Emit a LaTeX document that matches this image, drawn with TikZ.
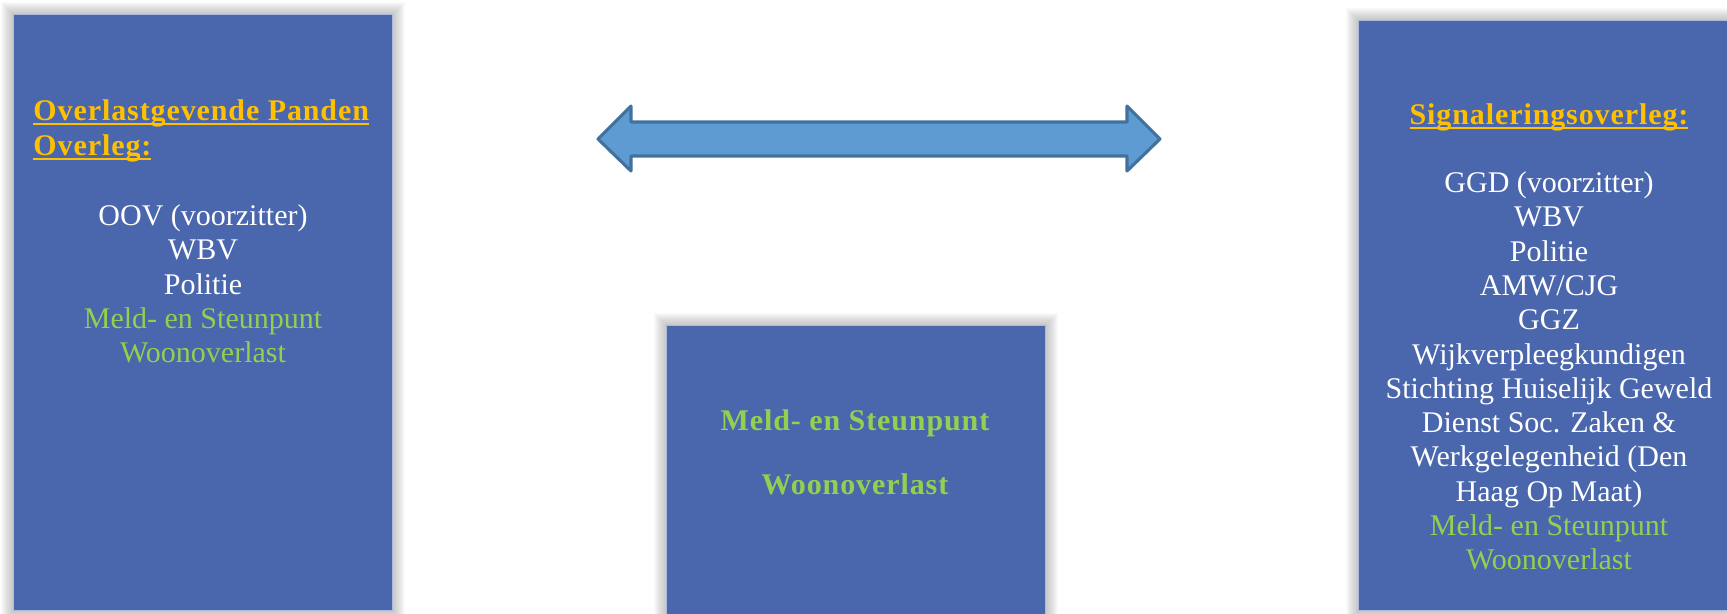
\documentclass[tikz,border=0pt]{standalone}
\usepackage{fontspec}
\setmainfont{Liberation Serif}[BoldFeatures={LetterSpace=3}]
\usepackage{tikz}
\usetikzlibrary{positioning,backgrounds}
\definecolor{boxblue}{HTML}{4A66AC}
\definecolor{arrowblue}{HTML}{5F9BD3}
\definecolor{arrowline}{HTML}{41719C}
\definecolor{titleorange}{HTML}{FFC000}
\definecolor{textgreen}{HTML}{92D050}
\newcommand{\ulline}[1]{\setbox0\hbox{#1}\rlap{\rule[-1.9pt]{\wd0}{0.85pt}}\box0}

\begin{document}
\begin{tikzpicture}[x=0.42pt, y=-0.42pt,
    panel/.style={fill=boxblue, draw=white!55!boxblue, line width=0.4pt,
      anchor=north west, inner sep=0pt},
    txt/.style={font=\fontsize{12.6}{14.4}\selectfont, inner sep=0pt},
    members/.style={txt, text=white, align=center},
    heading/.style={txt, font=\fontsize{12.6}{14.4}\selectfont\bfseries, text=titleorange},
    office/.style={txt, font=\fontsize{12.6}{26.9}\selectfont\bfseries, text=textgreen, align=center}]
  \useasboundingbox (0,0) rectangle (1727,613);

  % the three panels
  \node [panel, minimum width=159.2pt, minimum height=250.3pt] (opo) at (13,14) {};
  \node [panel, minimum width=159.2pt, minimum height=124pt] (msw) at (666,325) {};
  \node [panel, minimum width=160.4pt, minimum height=248pt] (sig) at (1358,20) {};

  \begin{scope}[on background layer]
    \foreach \b in {opo,msw,sig}
      \foreach \d in {1,...,12}
        \fill [black, opacity=0.018] ([shift={(-\d,-\d)}]\b.north west) rectangle ([shift={(\d,\d)}]\b.south east);
  \end{scope}

  % panel texts
  \node [heading, align=left, anchor=west] (opotitle) at (33,131)
    {\ulline{Overlastgevende Panden}\\\ulline{Overleg:}};
  \node [members] (opolist) at (203,284)
    {OOV (voorzitter)\\WBV\\Politie\\\textcolor{textgreen}{Meld- en Steunpunt}\\\textcolor{textgreen}{Woonoverlast}};

  \node [office] (mswtext) at (855,452) {Meld- en Steunpunt\\Woonoverlast};

  \node [heading] (sigtitle) at (1549,117) {\ulline{Signaleringsoverleg:}};
  \node [members] (siglist) at (1549,371)
    {GGD (voorzitter)\\WBV\\Politie\\AMW/CJG\\GGZ\\Wijkverpleegkundigen\\Stichting Huiselijk Geweld\\
     Dienst Soc. Zaken \&\\Werkgelegenheid (Den\\Haag Op Maat)\\
     \textcolor{textgreen}{Meld- en Steunpunt}\\\textcolor{textgreen}{Woonoverlast}};

  % two-way arrow between the meetings
  \coordinate (tipL) at (598,139);
  \coordinate (tipR) at (1160,139);
  \draw [fill=arrowblue, draw=arrowline, line width=1.3pt, line join=round]
    (tipL) -- ++(33,-33) -- ++(0,16) -- ([shift={(-33,-17)}]tipR) -- ++(0,-16)
    -- (tipR) -- ++(-33,32) -- ++(0,-15) -- ([shift={(33,17)}]tipL) -- ++(0,15) -- cycle;
\end{tikzpicture}
\end{document}
